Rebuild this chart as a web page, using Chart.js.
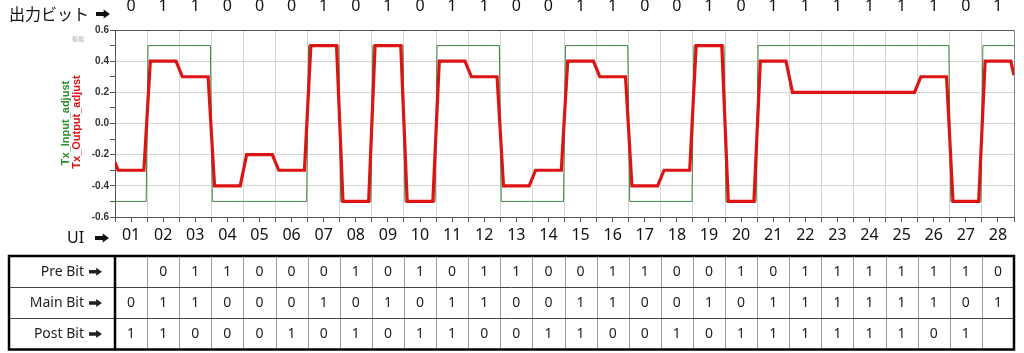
<!DOCTYPE html>
<html>
<head>
<meta charset="utf-8">
<script src="https://cdn.jsdelivr.net/npm/chart.js@4.4.1/dist/chart.umd.min.js"></script>
<style>
  html, body { margin: 0; padding: 0; background: #fff; }
  #wrap { width: 1024px; height: 353px; }
</style>
</head>
<body>
<div id="wrap"><canvas id="tx-chart" width="1024" height="353"></canvas></div>
<script>
// UI numbers under the plot
const uiLabels = ['01','02','03','04','05','06','07','08','09','10','11','12','13','14',
                  '15','16','17','18','19','20','21','22','23','24','25','26','27','28'];
// 出力ビット row
const outBits  = [0,1,1,0,0,0,1,0,1,0,1,1,0,0,1,1,0,0,1,0,1,1,1,1,1,1,0,1];
// table rows
const preBits  = ['',0,1,1,0,0,0,1,0,1,0,1,1,0,0,1,1,0,0,1,0,1,1,1,1,1,1,0];
const mainBits = [0,1,1,0,0,0,1,0,1,0,1,1,0,0,1,1,0,0,1,0,1,1,1,1,1,1,0,1];
const postBits = [1,1,0,0,0,1,0,1,0,1,1,0,0,1,1,0,0,1,0,1,1,1,1,1,1,0,1,''];
const rowNames = ['Pre Bit', 'Main Bit', 'Post Bit'];

// Tx_Input_adjust level in each UI
const inLevels  = [-0.5,0.5,0.5,-0.5,-0.5,-0.5,0.5,-0.5,0.5,-0.5,0.5,0.5,-0.5,-0.5,
                   0.5,0.5,-0.5,-0.5,0.5,-0.5,0.5,0.5,0.5,0.5,0.5,0.5,-0.5,0.5];
// Tx_Output_adjust level in each UI
const outLevels = [-0.3,0.4,0.3,-0.4,-0.2,-0.3,0.5,-0.5,0.5,-0.5,0.4,0.3,-0.4,-0.3,
                   0.4,0.3,-0.4,-0.3,0.5,-0.5,0.4,0.2,0.2,0.2,0.2,0.3,-0.5,0.4];
const outStart = -0.25;   // value at the left edge
const outEnd = 0.31;      // value at the right edge
const inStart = -0.5;
const inEnd = 0.5;

const yTicks = [-0.6,-0.5,-0.4,-0.3,-0.2,-0.1,0,0.1,0.2,0.3,0.4,0.5,0.6];

// each UI is a flat level, edges are short ramps across the UI boundary
function levelPoints(levels, edge, first, last) {
  const pts = [{x: 0, y: first}];
  levels.forEach((v, i) => {
    pts.push({x: i + edge, y: v});
    pts.push({x: i + 1 - edge, y: v});
  });
  pts.push({x: levels.length, y: last});
  return pts;
}

function halfTicks(scale) {
  const t = [];
  for (let k = 0; k <= uiLabels.length * 2; k++) t.push({value: k / 2});
  scale.ticks = t;
}
const isCenter = v => Math.abs(v % 1 - 0.5) < 0.01;

// heavy black right arrow
function arrow(ctx, x, y, w, h) {
  const sh = h * 0.42;
  const hx = x + w * 0.55;
  ctx.beginPath();
  ctx.moveTo(x, y - sh / 2);
  ctx.lineTo(hx, y - sh / 2);
  ctx.lineTo(hx, y - h / 2);
  ctx.lineTo(x + w, y);
  ctx.lineTo(hx, y + h / 2);
  ctx.lineTo(hx, y + sh / 2);
  ctx.lineTo(x, y + sh / 2);
  ctx.closePath();
  ctx.fill();
}

const overlay = {
  id: 'overlay',
  afterDraw(chart) {
    const ctx = chart.ctx;
    const xs = chart.scales.x;
    const area = chart.chartArea;
    ctx.save();

    // right frame line
    ctx.strokeStyle = '#888';
    ctx.lineWidth = 1;
    ctx.beginPath();
    ctx.moveTo(area.right + 0.5, area.top);
    ctx.lineTo(area.right + 0.5, area.bottom);
    ctx.stroke();

    // header / UI captions
    ctx.fillStyle = '#111';
    ctx.textBaseline = 'middle';
    ctx.textAlign = 'left';
    ctx.font = '16px "Noto Sans CJK JP"';
    ctx.fillText('出力ビット', 9, 14);
    ctx.font = '16px "Noto Sans"';
    ctx.fillText('UI', 67, 238);
    arrow(ctx, 96, 14, 14, 9);
    arrow(ctx, 95, 238, 14, 9);

    // small grey unit text
    ctx.fillStyle = '#aaa';
    ctx.font = '6px "Noto Sans CJK JP"';
    ctx.fillText('振幅', 72, 39);

    // y axis titles
    ctx.font = 'bold 11px "Liberation Sans"';
    ctx.textAlign = 'center';
    ctx.save();
    ctx.translate(66, 123);
    ctx.rotate(-Math.PI / 2);
    ctx.fillStyle = '#2e8b2e';
    ctx.fillText('Tx_Input_adjust', 0, 0);
    ctx.restore();
    ctx.save();
    ctx.translate(77, 122);
    ctx.rotate(-Math.PI / 2);
    ctx.fillStyle = '#e01010';
    ctx.fillText('Tx_Output_adjust', 0, 0);
    ctx.restore();

    // bit table
    const rows = [preBits, mainBits, postBits];
    const rowY = [256, 287.5, 318.5, 349.5];
    const left = 9, split = xs.getPixelForValue(0), right = xs.getPixelForValue(uiLabels.length);

    // thin cell lines
    ctx.strokeStyle = '#999';
    ctx.lineWidth = 1;
    ctx.beginPath();
    for (let i = 1; i < uiLabels.length; i++) {
      const px = Math.round(xs.getPixelForValue(i)) + 0.5;
      ctx.moveTo(px, rowY[0]);
      ctx.lineTo(px, rowY[3]);
    }
    ctx.stroke();
    ctx.strokeStyle = '#444';
    ctx.beginPath();
    for (let r = 1; r < 3; r++) {
      ctx.moveTo(left, rowY[r]);
      ctx.lineTo(right, rowY[r]);
    }
    ctx.stroke();

    // heavy frame
    ctx.strokeStyle = '#000';
    ctx.lineWidth = 2.5;
    ctx.strokeRect(left, rowY[0], right - left, rowY[3] - rowY[0]);
    ctx.beginPath();
    ctx.moveTo(split, rowY[0]);
    ctx.lineTo(split, rowY[3]);
    ctx.stroke();

    // cell text
    ctx.fillStyle = '#222';
    ctx.textBaseline = 'middle';
    for (let r = 0; r < 3; r++) {
      const cy = (rowY[r] + rowY[r + 1]) / 2;
      ctx.textAlign = 'right';
      ctx.font = '14px "Noto Sans"';
      ctx.fillText(rowNames[r], 84, cy);
      arrow(ctx, 89, cy, 13, 8);
      ctx.textAlign = 'center';
      ctx.font = '14px "Noto Sans"';
      rows[r].forEach((b, i) => {
        ctx.fillText(String(b), xs.getPixelForValue(i + 0.5), cy);
      });
    }
    ctx.restore();
  }
};

const ctx = document.getElementById('tx-chart').getContext('2d');
new Chart(ctx, {
  type: 'line',
  data: {
    datasets: [
      {
        label: 'Tx_Output_adjust',
        data: levelPoints(outLevels, 0.1, outStart, outEnd),
        borderColor: '#dc1414',
        borderWidth: 3.2,
        pointRadius: 0,
        order: 0
      },
      {
        label: 'Tx_Input_adjust',
        data: levelPoints(inLevels, 0.03, inStart, inEnd),
        borderColor: '#3f833f',
        borderWidth: 1,
        pointRadius: 0,
        order: 1
      }
    ]
  },
  options: {
    responsive: false,
    animation: false,
    devicePixelRatio: 1,
    layout: { padding: { left: 85, right: 10, top: 0, bottom: 96 } },
    plugins: { legend: { display: false }, tooltip: { enabled: false } },
    scales: {
      x: {
        type: 'linear',
        position: 'bottom',
        min: 0,
        max: uiLabels.length,
        afterBuildTicks: halfTicks,
        afterFit: s => { s.height = 40; },
        grid: {
          color: c => (c.tick && c.tick.value % 1 === 0) ? '#d4d4d4' : 'rgba(0,0,0,0)',
          tickColor: '#555',
          tickLength: 5
        },
        border: { color: '#555' },
        ticks: {
          autoSkip: false,
          maxRotation: 0,
          padding: 4,
          color: '#111',
          font: { family: 'Noto Sans', size: 16 },
          callback: v => isCenter(v) ? uiLabels[Math.floor(v)] : ''
        }
      },
      x2: {
        type: 'linear',
        position: 'top',
        min: 0,
        max: uiLabels.length,
        afterBuildTicks: halfTicks,
        afterFit: s => { s.height = 30; },
        grid: { display: false },
        border: { display: true, color: '#555' },
        ticks: {
          autoSkip: false,
          maxRotation: 0,
          padding: 6,
          color: '#111',
          font: { family: 'Noto Sans', size: 16 },
          callback: v => isCenter(v) ? String(outBits[Math.floor(v)]) : ''
        }
      },
      y: {
        min: -0.6,
        max: 0.6,
        afterBuildTicks: s => { s.ticks = yTicks.map(v => ({value: v})); },
        afterFit: s => { s.width = 30; },
        grid: {
          color: c => (c.tick && Math.round(c.tick.value * 10) % 2 === 0) ? '#d4d4d4' : 'rgba(0,0,0,0)',
          tickColor: '#555',
          tickLength: 5
        },
        border: { color: '#555' },
        ticks: {
          autoSkip: false,
          padding: 1,
          color: '#333',
          font: { family: 'Liberation Sans', size: 10, weight: 'bold' },
          callback: v => Math.round(v * 10) % 2 === 0 ? v.toFixed(1) : ''
        }
      }
    }
  },
  plugins: [overlay]
});
</script>
</body>
</html>
